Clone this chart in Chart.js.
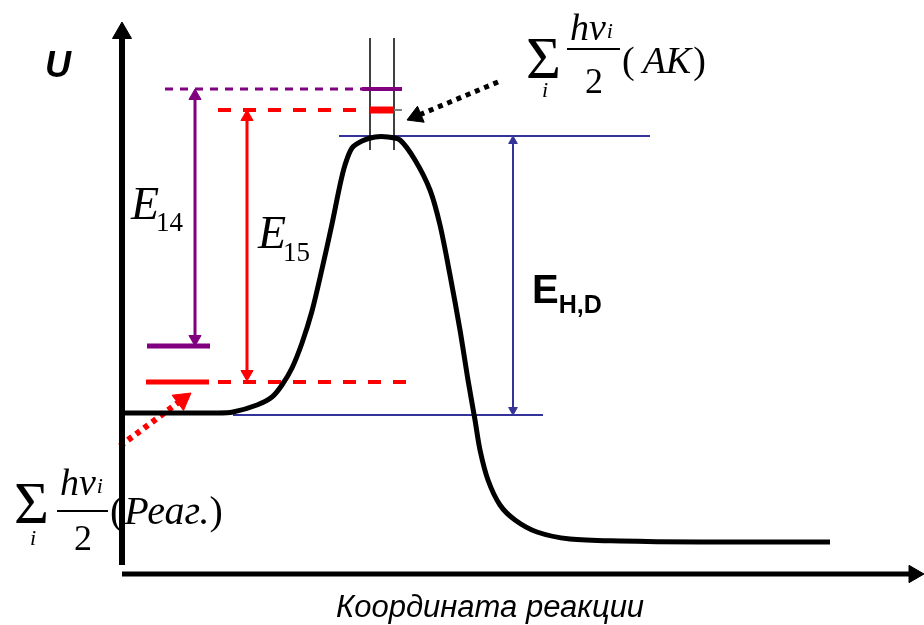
<!DOCTYPE html>
<html>
<head>
<meta charset="utf-8">
<script src="https://cdn.jsdelivr.net/npm/chart.js@4.4.1/dist/chart.umd.min.js"></script>
<style>
  html, body { margin: 0; padding: 0; background: #fff; }
  #chart { display: block; }
</style>
</head>
<body>
<canvas id="chart" width="924" height="625"></canvas>
<script>
/* =========================
   DATA
========================= */
// reaction coordinate (0 = U axis) and potential energy along the path
const reactionX = [0, 95, 111, 135, 150, 160, 170, 180, 190, 200, 210, 218, 223, 230, 240, 253, 266, 278, 293, 308, 318, 328, 338, 346, 353, 358, 366, 378, 393, 415, 448, 498, 578, 708];
const energyU   = [161, 161, 162, 169, 177, 189, 206, 231, 263, 305, 350, 389, 409, 426, 433, 437, 437, 434, 414, 384, 349, 299, 244, 194, 154, 124, 94, 69, 54, 42, 35, 33, 32, 32];

// levels
const uBarrierTop = 438;   // top of E_H,D
const uBarrierBase = 159;  // bottom of E_H,D
const uZpeTS = [485, 464];     // activated complex, 14 / 15
const uZpeReag = [228, 192];   // reactants, 14 / 15
const levelNames = ['E14', 'E15'];

const axisTitle = 'Координата реакции';
const yTitle = 'U';

/* =========================
   HELPERS
========================= */
function seg(x1, y1, x2, y2, color, width, dash) {
  return {
    data: [{ x: x1, y: y1 }, { x: x2, y: y2 }],
    borderColor: color,
    borderWidth: width,
    borderDash: dash || [],
    borderCapStyle: 'butt',
    pointRadius: 0
  };
}

// line with triangle head(s); tip lands on the end point
function arrow(x1, y1, x2, y2, color, width, r, both, dash) {
  const len = Math.hypot(x2 - x1, y2 - y1);
  const ux = (x2 - x1) / len, uy = (y2 - y1) / len;
  const rot = Math.atan2(ux, uy) * 180 / Math.PI;
  const a = both ? { x: x1 + ux * r, y: y1 + uy * r } : { x: x1, y: y1 };
  const b = { x: x2 - ux * r, y: y2 - uy * r };
  return {
    data: [a, b],
    borderColor: color,
    borderWidth: width,
    borderDash: dash || [],
    borderCapStyle: 'butt',
    pointStyle: 'triangle',
    pointRadius: [both ? r : 0, r],
    pointRotation: [rot + 180, rot],
    pointBackgroundColor: color,
    pointBorderColor: color,
    pointBorderWidth: 1
  };
}

const PURPLE = '#800080';
const RED = '#ff0000';
const BLUE = '#333399';

/* =========================
   DATASETS
========================= */
const datasets = [
  {
    data: reactionX.map((x, i) => ({ x: x, y: energyU[i] })),
    borderColor: '#000',
    borderWidth: 5,
    tension: 0.3,
    pointRadius: 0
  },
  // axes
  arrow(0, 9, 0, 552, '#000', 6, 11, false),
  arrow(0, 0, 802, 0, '#000', 5, 10, false),

  // activated complex levels
  seg(43, uZpeTS[0], 240, uZpeTS[0], PURPLE, 3, [8, 7]),
  seg(240, uZpeTS[0], 280, uZpeTS[0], PURPLE, 4),
  seg(96, uZpeTS[1], 240, uZpeTS[1], RED, 4, [13, 12]),
  seg(248, uZpeTS[1], 272, uZpeTS[1], RED, 7),
  seg(272, uZpeTS[1], 280, uZpeTS[1], '#808080', 2),
  seg(248, 424, 248, 536, '#000', 1.5),
  seg(272, 424, 272, 536, '#000', 1.5),

  // barrier
  seg(217, uBarrierTop, 528, uBarrierTop, BLUE, 2),
  seg(111, uBarrierBase, 421, uBarrierBase, BLUE, 2),
  arrow(391, uBarrierBase, 391, uBarrierTop, BLUE, 2, 5, true),

  // reactant levels
  seg(25, uZpeReag[0], 88, uZpeReag[0], PURPLE, 5),
  seg(24, uZpeReag[1], 87, uZpeReag[1], RED, 5),
  seg(96, uZpeReag[1], 293, uZpeReag[1], RED, 4, [13, 12]),
  arrow(73, uZpeReag[0], 73, uZpeTS[0], PURPLE, 3, 7, true),
  arrow(125, uZpeReag[1] + 1, 125, uZpeTS[1], RED, 3, 7, true),

  // pointers to the formulas
  arrow(-2, 128, 69, 181, RED, 6, 11, false, [5, 5]),
  arrow(376, 492, 285, 454, '#000', 5, 10, false, [5, 5])
];

/* =========================
   TEXT
========================= */
const SERIF = "'Liberation Serif', 'Times New Roman', serif";
const SANS = "'Liberation Sans', Arial, sans-serif";

const textPlugin = {
  id: 'texts',
  afterDatasetsDraw(chart) {
    const { ctx, scales } = chart;
    const X = v => scales.x.getPixelForValue(v);
    const Y = v => scales.y.getPixelForValue(v);

    function txt(s, x, y, font, align) {
      ctx.font = font;
      ctx.textAlign = align || 'left';
      ctx.fillText(s, X(x), Y(y));
      return ctx.measureText(s).width;
    }

    ctx.save();
    ctx.fillStyle = '#000';
    ctx.textBaseline = 'alphabetic';

    // U
    txt(yTitle, -77, 497, 'italic bold 36px ' + SANS);

    // E14, E15
    let w = txt('E', 9, 355, 'italic 46px ' + SERIF);
    txt(levelNames[0].slice(1), 9 + w - 3, 343, '27px ' + SERIF);
    w = txt('E', 136, 326, 'italic 46px ' + SERIF);
    txt(levelNames[1].slice(1), 136 + w - 3, 313, '27px ' + SERIF);

    // E H,D
    w = txt('E', 410, 271, 'bold 40px ' + SANS);
    txt('H,D', 410 + w, 261, 'bold 25px ' + SANS);

    // sum formula, activated complex
    txt('\u03A3', 404, 496, '60px ' + SERIF);
    txt('i', 423, 477, 'italic 22px ' + SERIF, 'center');
    w = txt('h\u03BD', 448, 534, 'italic 38px ' + SERIF);
    txt('i', 448 + w + 1, 536, 'italic 22px ' + SERIF);
    ctx.fillRect(X(445), Y(525) - 1, X(498) - X(445), 2);
    txt('2', 472, 481, '36px ' + SERIF, 'center');
    w = txt('(', 500, 501, '38px ' + SERIF);
    w += txt('AK', 500 + w + 8, 501, 'italic 38px ' + SERIF) + 8;
    txt(')', 500 + w + 2, 501, '38px ' + SERIF);

    // sum formula, reactants
    txt('\u03A3', -108, 51, '60px ' + SERIF);
    txt('i', -89, 29, 'italic 22px ' + SERIF, 'center');
    w = txt('h\u03BD', -62, 79, 'italic 38px ' + SERIF);
    txt('i', -62 + w + 1, 81, 'italic 22px ' + SERIF);
    ctx.fillRect(X(-65), Y(63) - 1, X(-14) - X(-65), 2);
    txt('2', -39, 24, '36px ' + SERIF, 'center');
    w = txt('(', -12, 50, '40px ' + SERIF);
    w += txt('Реаг.', -12 + w + 1, 50, 'italic 40px ' + SERIF) + 1;
    txt(')', -12 + w, 50, '40px ' + SERIF);

    // x axis title
    txt(axisTitle, 368, -43, 'italic 31px ' + SANS, 'center');

    ctx.restore();
  }
};

/* =========================
   CHART
========================= */
new Chart(document.getElementById('chart'), {
  type: 'line',
  data: { datasets: datasets },
  options: {
    responsive: false,
    animation: false,
    devicePixelRatio: 1,
    layout: { padding: 0, autoPadding: false },
    plugins: { legend: { display: false }, tooltip: { enabled: false } },
    scales: {
      x: { type: 'linear', display: false, min: -122, max: 802 },
      y: { type: 'linear', display: false, min: -51, max: 574 }
    }
  },
  plugins: [textPlugin]
});
</script>
</body>
</html>
